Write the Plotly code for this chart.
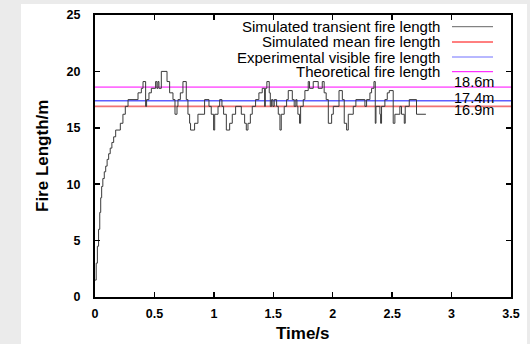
import plotly.graph_objects as go

# ---- data ----
time_s = [0.000, 0.010, 0.020, 0.030, 0.040, 0.048, 0.056, 0.066, 0.078, 0.090,
          0.102, 0.115, 0.128, 0.142, 0.157, 0.174, 0.213, 0.235, 0.255, 0.278,
          0.362, 0.390, 0.404, 0.426, 0.434, 0.454, 0.474, 0.510, 0.521, 0.530,
          0.538, 0.558, 0.606, 0.628, 0.656, 0.673, 0.690, 0.698, 0.718, 0.740,
          0.768, 0.782, 0.796, 0.804, 0.838, 0.866, 0.922, 0.959, 0.978, 0.998,
          1.007, 1.035, 1.049, 1.068, 1.082, 1.105, 1.133, 1.155, 1.183, 1.231,
          1.259, 1.273, 1.287, 1.307, 1.323, 1.351, 1.379, 1.407, 1.427, 1.433,
          1.446, 1.466, 1.475, 1.486, 1.497, 1.508, 1.528, 1.542, 1.556, 1.567,
          1.592, 1.612, 1.626, 1.660, 1.676, 1.690, 1.699, 1.707, 1.721, 1.730,
          1.752, 1.766, 1.794, 1.805, 1.836, 1.878, 1.912, 1.928, 1.945, 1.963,
          1.991, 2.005, 2.053, 2.081, 2.097, 2.117, 2.131, 2.173, 2.195, 2.271,
          2.285, 2.313, 2.327, 2.347, 2.358, 2.364, 2.397, 2.403, 2.411, 2.439,
          2.459, 2.476, 2.509, 2.523, 2.565, 2.579, 2.602, 2.610, 2.644, 2.705,
          2.784]
fire_length = [1.5, 3.0, 4.5, 6.0, 7.5, 8.8, 9.8, 10.5, 11.1, 11.6,
               12.2, 12.7, 13.2, 13.7, 14.2, 14.8, 15.4, 16.2, 16.9, 17.5,
               18.1, 18.5, 19.1, 16.9, 17.5, 18.1, 18.5, 19.1, 18.5, 19.1,
               18.5, 20.0, 19.1, 18.1, 17.5, 16.2, 16.9, 17.5, 18.1, 19.1,
               17.5, 16.2, 15.4, 14.8, 15.4, 16.2, 17.5, 16.9, 16.2, 14.8,
               16.2, 16.9, 17.5, 16.9, 16.2, 14.8, 15.4, 16.2, 16.9, 16.2,
               15.4, 14.8, 15.4, 16.2, 16.9, 17.5, 18.1, 18.5, 16.9, 18.5,
               19.1, 18.1, 16.9, 17.5, 16.9, 17.5, 16.9, 16.2, 14.8, 16.2,
               16.9, 17.5, 18.3, 17.5, 16.9, 17.5, 16.9, 16.2, 15.4, 16.9,
               17.5, 18.3, 19.1, 18.5, 19.1, 18.5, 19.1, 18.1, 17.5, 15.4,
               16.2, 16.9, 18.3, 17.5, 15.4, 14.8, 16.2, 16.9, 17.5, 16.9,
               17.5, 18.1, 18.5, 19.1, 15.4, 16.9, 16.2, 15.4, 16.9, 17.5,
               18.1, 18.3, 15.4, 16.2, 16.9, 16.2, 15.4, 16.9, 17.5, 16.2,
               16.2]

ref_names = ["Simulated mean fire length", "Experimental visible fire length",
             "Theoretical fire length"]
ref_values = [16.9, 17.4, 18.6]
ref_labels = ["16.9m", "17.4m", "18.6m"]
x_range = [0, 3.5]
x_ticks = [0, 0.5, 1, 1.5, 2, 2.5, 3, 3.5]
x_tick_text = ["0", "0.5", "1", "1.5", "2", "2.5", "3", "3.5"]
y_ticks = [0, 5, 10, 15, 20, 25]

# ---- styling / layout ----
W, H = 530, 344
L, R, T, B = 95, 19, 15, 47
PW, PH = W - L - R, H - T - B
FONT = "Liberation Sans, Arial, Helvetica, sans-serif"

def px2paper_x(px):
    return (px - L) / PW

def px2paper_y(py):
    return (H - B - py) / PH

trace_color = "#3a3a3a"
ref_line_colors = ["rgb(240,115,115)", "rgb(95,95,255)", "rgb(255,110,255)"]
legend_sample_colors = ["#666666", "#ff0000", "#7070ff", "#ff00ff"]
label_shift = [-4, 3, 5]

fig = go.Figure()

for name, val, col in zip(ref_names, ref_values, ref_line_colors):
    fig.add_trace(go.Scatter(x=x_range, y=[val, val], mode="lines",
                             line=dict(color=col, width=1.7), name=name,
                             showlegend=False, hoverinfo="skip"))

fig.add_trace(go.Scatter(x=time_s, y=fire_length, mode="lines",
                         line=dict(color=trace_color, width=1, shape="hv"),
                         name="Simulated transient fire length", showlegend=False))

shapes = [dict(type="rect", xref="paper", yref="paper",
               x0=px2paper_x(21), x1=px2paper_x(527),
               y0=px2paper_y(346), y1=px2paper_y(4),
               fillcolor="white", line=dict(width=0), layer="below")]

annotations = []
legend_names = ["Simulated transient fire length"] + ref_names
row_y = [26.7, 42.0, 57.0, 71.7]
for nm, ry, col in zip(legend_names, row_y, legend_sample_colors):
    annotations.append(dict(text=nm, xref="paper", yref="paper",
                            x=px2paper_x(442), y=px2paper_y(ry),
                            xanchor="right", yanchor="middle", showarrow=False,
                            font=dict(family=FONT, size=15, color="black")))
    shapes.append(dict(type="line", xref="paper", yref="paper",
                       x0=px2paper_x(452), x1=px2paper_x(493),
                       y0=px2paper_y(ry), y1=px2paper_y(ry),
                       line=dict(color=col, width=1)))

for val, lab, sh in zip(ref_values, ref_labels, label_shift):
    annotations.append(dict(text=lab, x=3.0, y=val, xref="x", yref="y",
                            xanchor="left", yanchor="middle", yshift=sh,
                            showarrow=False,
                            font=dict(family=FONT, size=14.5, color="black")))

# axis titles as paper annotations (precise placement)
annotations.append(dict(text="Time/s", xref="paper", yref="paper",
                        x=px2paper_x(303), y=px2paper_y(333),
                        xanchor="center", yanchor="middle", showarrow=False,
                        font=dict(family=FONT, size=17, color="black", weight="bold")))
annotations.append(dict(text="Fire Length/m", xref="paper", yref="paper",
                        x=px2paper_x(42), y=px2paper_y(156), textangle=-90,
                        xanchor="center", yanchor="middle", showarrow=False,
                        font=dict(family=FONT, size=17, color="black", weight="bold")))

axis_common = dict(showline=True, linecolor="black", linewidth=2, mirror="ticks",
                   ticks="inside", ticklen=5, tickwidth=1.5, tickcolor="black",
                   showgrid=False, zeroline=False, automargin=False,
                   tickfont=dict(family=FONT, size=12.5, color="black", weight="bold"))

fig.update_layout(
    width=W, height=H,
    margin=dict(l=L, r=R, t=T, b=B, pad=0, autoexpand=False),
    paper_bgcolor="#ebebeb", plot_bgcolor="white",
    showlegend=False,
    shapes=shapes, annotations=annotations,
    xaxis=dict(range=x_range, tickvals=x_ticks, ticktext=x_tick_text,
               ticklabelstandoff=4, **axis_common),
    yaxis=dict(range=[0, 25], tickvals=y_ticks,
               ticklabelstandoff=10, **axis_common),
)

fig.write_html("out.html",
               config={"displayModeBar": False, "staticPlot": True},
               post_script="document.body.style.margin='0px';"
                           "document.body.style.overflow='hidden';")
